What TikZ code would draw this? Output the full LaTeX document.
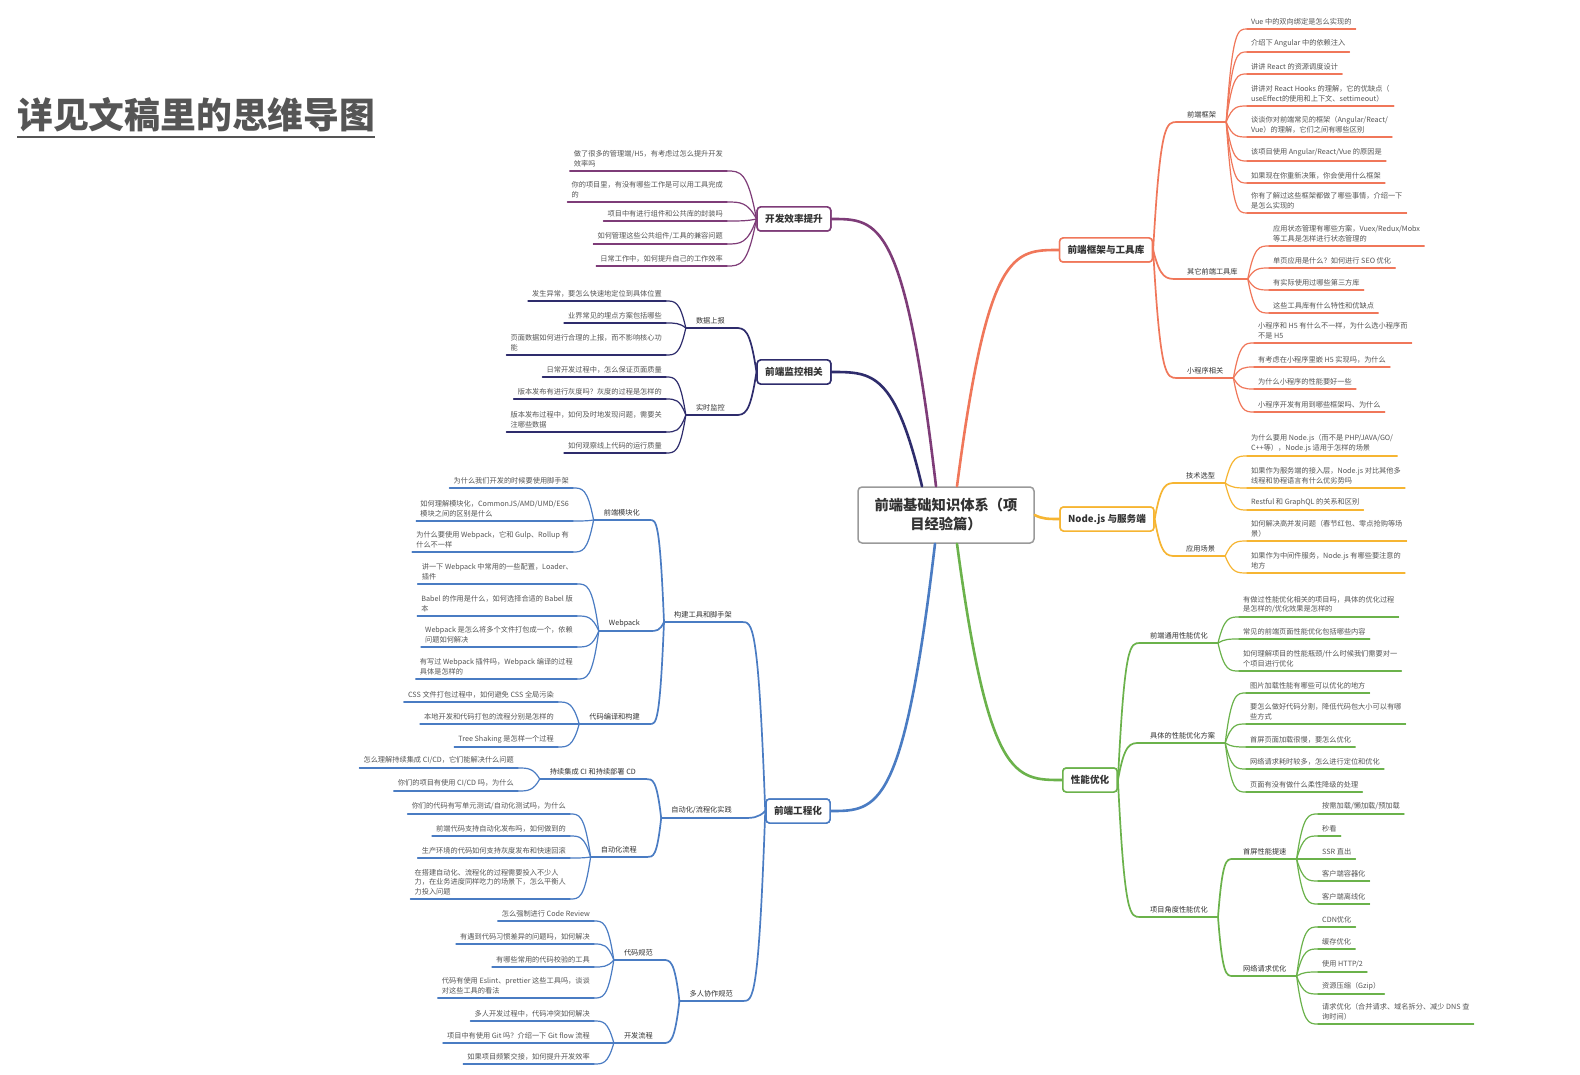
\documentclass[tikz,border=0pt]{standalone}
\usepackage{fontspec}
\setmainfont{Noto Sans CJK SC}
\usetikzlibrary{calc}

\definecolor{cOr}{HTML}{F0775A}
\definecolor{cYe}{HTML}{F6B532}
\definecolor{cGr}{HTML}{6BB24B}
\definecolor{cBl}{HTML}{4A7CC3}
\definecolor{cNv}{HTML}{2E2C6C}
\definecolor{cPu}{HTML}{7E3C78}
\definecolor{txt}{HTML}{555555}
\definecolor{dark}{HTML}{333333}
\definecolor{frame}{HTML}{9A9A9A}
\definecolor{titlegray}{HTML}{555555}

\newcommand\lf{\fontsize{7.2}{9.5}\selectfont}

\tikzset{
  br/.style={to path={let \p1=(\tikztostart), \p2=(\tikztotarget) in
      .. controls ({\x1+0.3*(\x2-\x1)},\y2) and ({\x1+0.55*(\x2-\x1)},\y2) .. (\tikztotarget)}},
  leaf/.style={inner xsep=4pt, inner ysep=4pt, align=left, font=\lf, text=txt},
  topic/.style={inner xsep=10pt, inner ysep=4pt, align=left, font=\lf, text=dark},
  mainbox/.style={draw=#1, line width=1.5pt, rounded corners=3.5pt, fill=white,
      font=\fontsize{9.6}{11}\selectfont\bfseries, text=dark, inner xsep=8pt, minimum height=24pt},
  ln/.style={line width=1.2pt, line cap=round},
  sub/.style={line width=1.7pt},
  trunk/.style={line width=2.6pt, line cap=round},
}

% topic on the right-hand side: style, name, x, underline y, colour, parent anchor, text
\newcommand\topicR[7]{%
  \node[#1, anchor=south west] (#2) at (#3,#4) {#7};
  \draw[ln,#5] (#2.south west) -- (#2.south east);
  \draw[ln,#5] (#6) to[br] (#2.south west);
}
% topic on the left-hand side
\newcommand\topicL[7]{%
  \node[#1, anchor=south east] (#2) at (#3,#4) {#7};
  \draw[ln,#5] (#2.south west) -- (#2.south east);
  \draw[ln,#5] (#6) to[br] (#2.south east);
}

\begin{document}
\begin{tikzpicture}[x=1pt,y=-1pt]
\useasboundingbox (0,0) rectangle (1580,1075);
\fill[white] (0,0) rectangle (1580,1075);

% heading
\node[font=\fontsize{35.8}{40}\selectfont\bfseries, text=titlegray, anchor=base west, inner sep=0pt]
  (title) at (17,129) {详见文稿里的思维导图};
\draw[titlegray, line width=2pt] ([yshift=-8pt]title.base west) -- ([yshift=-8pt]title.base east);

% central topic
\node[draw=frame, line width=1.5pt, rounded corners=4pt, fill=white, minimum width=176pt,
      minimum height=56pt, align=center, text=dark,
      font=\fontsize{14.3}{19}\selectfont\bfseries] (ctr) at (946,515)
  {前端基础知识体系（项\\目经验篇）};

% main topics
\node[mainbox=cOr] (fw) at (1106,250) {前端框架与工具库};
\node[mainbox=cYe] (nd) at (1107,519) {Node.js 与服务端};
\node[mainbox=cGr] (pf) at (1090,780) {性能优化};
\node[mainbox=cPu] (kf) at (794,219) {开发效率提升};
\node[mainbox=cNv] (jk) at (794,372) {前端监控相关};
\node[mainbox=cBl] (gc) at (798,811) {前端工程化};

% trunks from the central topic
\draw[trunk,cOr] (957,0 |- ctr.north) to[br] (fw.west);
\draw[trunk,cYe] (ctr.east) to[br] (nd.west);
\draw[trunk,cGr] (957,0 |- ctr.south) to[br] (pf.west);
\draw[trunk,cPu] (936,0 |- ctr.north) to[br] (kf.east);
\draw[trunk,cNv] (922,0 |- ctr.north) to[br] (jk.east);
\draw[trunk,cBl] (935,0 |- ctr.south) to[br] (gc.east);

% ---------- front-end frameworks ----------
\topicR{topic}{fk}{1177}{122}{cOr,sub}{fw.east}{前端框架}
\topicR{topic}{qt}{1177}{279}{cOr,sub}{fw.east}{其它前端工具库}
\topicR{topic}{xc}{1177}{378}{cOr,sub}{fw.east}{小程序相关}

\topicR{leaf}{fk1}{1247}{29}{cOr}{fk.south east}{Vue 中的双向绑定是怎么实现的}
\topicR{leaf}{fk2}{1247}{52}{cOr}{fk.south east}{介绍下 Angular 中的依赖注入}
\topicR{leaf}{fk3}{1247}{74}{cOr}{fk.south east}{讲讲 React 的资源调度设计}
\topicR{leaf}{fk4}{1247}{106}{cOr}{fk.south east}{讲讲对 React Hooks 的理解，它的优缺点（\\useEffect的使用和上下文、settimeout）}
\topicR{leaf}{fk5}{1247}{137}{cOr}{fk.south east}{谈谈你对前端常见的框架（Angular/React/\\Vue）的理解，它们之间有哪些区别}
\topicR{leaf}{fk6}{1247}{161}{cOr}{fk.south east}{该项目使用 Angular/React/Vue 的原因是}
\topicR{leaf}{fk7}{1247}{183}{cOr}{fk.south east}{如果现在你重新决策，你会使用什么框架}
\topicR{leaf}{fk8}{1247}{213}{cOr}{fk.south east}{你有了解过这些框架都做了哪些事情，介绍一下\\是怎么实现的}

\topicR{leaf}{qt1}{1269}{246}{cOr}{qt.south east}{应用状态管理有哪些方案，Vuex/Redux/Mobx\\等工具是怎样进行状态管理的}
\topicR{leaf}{qt2}{1269}{268}{cOr}{qt.south east}{单页应用是什么？如何进行 SEO 优化}
\topicR{leaf}{qt3}{1269}{290}{cOr}{qt.south east}{有实际使用过哪些第三方库}
\topicR{leaf}{qt4}{1269}{313}{cOr}{qt.south east}{这些工具库有什么特性和优缺点}

\topicR{leaf}{xc1}{1254}{343}{cOr}{xc.south east}{小程序和 H5 有什么不一样，为什么选小程序而\\不是 H5}
\topicR{leaf}{xc2}{1254}{367}{cOr}{xc.south east}{有考虑在小程序里嵌 H5 实现吗，为什么}
\topicR{leaf}{xc3}{1254}{389}{cOr}{xc.south east}{为什么小程序的性能要好一些}
\topicR{leaf}{xc4}{1254}{412}{cOr}{xc.south east}{小程序开发有用到哪些框架吗、为什么}

% ---------- Node.js ----------
\topicR{topic}{js}{1176}{483}{cYe,sub}{nd.east}{技术选型}
\topicR{topic}{yy}{1176}{556}{cYe,sub}{nd.east}{应用场景}

\topicR{leaf}{js1}{1247}{456}{cYe}{js.south east}{为什么要用 Node.js（而不是 PHP/JAVA/GO/\\C++等），Node.js 适用于怎样的场景}
\topicR{leaf}{js2}{1247}{488}{cYe}{js.south east}{如果作为服务端的接入层，Node.js 对比其他多\\线程和协程语言有什么优劣势吗}
\topicR{leaf}{js3}{1247}{510}{cYe}{js.south east}{Restful 和 GraphQL 的关系和区别}
\topicR{leaf}{yy1}{1247}{541}{cYe}{yy.south east}{如何解决高并发问题（春节红包、零点抢购等场\\景）}
\topicR{leaf}{yy2}{1247}{573}{cYe}{yy.south east}{如果作为中间件服务，Node.js 有哪些要注意的\\地方}

% ---------- performance ----------
\topicR{topic}{ty}{1140}{643}{cGr,sub}{pf.east}{前端通用性能优化}
\topicR{topic}{jt}{1140}{743}{cGr,sub}{pf.east}{具体的性能优化方案}
\topicR{topic}{xm}{1140}{917}{cGr,sub}{pf.east}{项目角度性能优化}

\topicR{leaf}{ty1}{1239}{617}{cGr}{ty.south east}{有做过性能优化相关的项目吗，具体的优化过程\\是怎样的/优化效果是怎样的}
\topicR{leaf}{ty2}{1239}{639}{cGr}{ty.south east}{常见的前端页面性能优化包括哪些内容}
\topicR{leaf}{ty3}{1239}{671}{cGr}{ty.south east}{如何理解项目的性能瓶颈/什么时候我们需要对一\\个项目进行优化}

\topicR{leaf}{jt1}{1246}{693}{cGr}{jt.south east}{图片加载性能有哪些可以优化的地方}
\topicR{leaf}{jt2}{1246}{724}{cGr}{jt.south east}{要怎么做好代码分割，降低代码包大小可以有哪\\些方式}
\topicR{leaf}{jt3}{1246}{747}{cGr}{jt.south east}{首屏页面加载很慢，要怎么优化}
\topicR{leaf}{jt4}{1246}{769}{cGr}{jt.south east}{网络请求耗时较多，怎么进行定位和优化}
\topicR{leaf}{jt5}{1246}{792}{cGr}{jt.south east}{页面有没有做什么柔性降级的处理}

\topicR{topic}{sp}{1233}{859}{cGr,sub}{xm.south east}{首屏性能提速}
\topicR{topic}{wl}{1233}{976}{cGr,sub}{xm.south east}{网络请求优化}

\topicR{leaf}{sp1}{1318}{814}{cGr}{sp.south east}{按需加载/懒加载/预加载}
\topicR{leaf}{sp2}{1318}{836}{cGr}{sp.south east}{秒看}
\topicR{leaf}{sp3}{1318}{859}{cGr}{sp.south east}{SSR 直出}
\topicR{leaf}{sp4}{1318}{881}{cGr}{sp.south east}{客户端容器化}
\topicR{leaf}{sp5}{1318}{904}{cGr}{sp.south east}{客户端离线化}

\topicR{leaf}{wl1}{1318}{927}{cGr}{wl.south east}{CDN优化}
\topicR{leaf}{wl2}{1318}{949}{cGr}{wl.south east}{缓存优化}
\topicR{leaf}{wl3}{1318}{972}{cGr}{wl.south east}{使用 HTTP/2}
\topicR{leaf}{wl4}{1318}{994}{cGr}{wl.south east}{资源压缩（Gzip）}
\topicR{leaf}{wl5}{1318}{1024}{cGr}{wl.south east}{请求优化（合并请求、域名拆分、减少 DNS 查\\询时间）}

% ---------- development efficiency ----------
\topicL{leaf}{kf1}{727}{171}{cPu}{kf.west}{做了很多的管理端/H5，有考虑过怎么提升开发\\效率吗}
\topicL{leaf}{kf2}{727}{202}{cPu}{kf.west}{你的项目里，有没有哪些工作是可以用工具完成\\的}
\topicL{leaf}{kf3}{727}{221}{cPu}{kf.west}{项目中有进行组件和公共库的封装吗}
\topicL{leaf}{kf4}{727}{244}{cPu}{kf.west}{如何管理这些公共组件/工具的兼容问题}
\topicL{leaf}{kf5}{727}{266}{cPu}{kf.west}{日常工作中，如何提升自己的工作效率}

% ---------- monitoring ----------
\topicL{topic}{sb}{735}{328}{cNv,sub}{jk.west}{数据上报}
\topicL{topic}{ss}{735}{415}{cNv,sub}{jk.west}{实时监控}

\topicL{leaf}{sb1}{666}{301}{cNv}{sb.south west}{发生异常，要怎么快速地定位到具体位置}
\topicL{leaf}{sb2}{666}{323}{cNv}{sb.south west}{业界常见的埋点方案包括哪些}
\topicL{leaf}{sb3}{666}{355}{cNv}{sb.south west}{页面数据如何进行合理的上报，而不影响核心功\\能}
\topicL{leaf}{ss1}{666}{377}{cNv}{ss.south west}{日常开发过程中，怎么保证页面质量}
\topicL{leaf}{ss2}{666}{399}{cNv}{ss.south west}{版本发布有进行灰度吗？灰度的过程是怎样的}
\topicL{leaf}{ss3}{666}{432}{cNv}{ss.south west}{版本发布过程中，如何及时地发现问题，需要关\\注哪些数据}
\topicL{leaf}{ss4}{666}{453}{cNv}{ss.south west}{如何观察线上代码的运行质量}

% ---------- engineering ----------
\topicL{topic}{gj}{742}{622}{cBl,sub}{gc.west}{构建工具和脚手架}
\topicL{topic}{zd}{742}{818}{cBl,sub}{gc.west}{自动化/流程化实践}
\topicL{topic}{dr}{743}{1001}{cBl,sub}{gc.west}{多人协作规范}

\topicL{topic}{mk}{650}{520}{cBl,sub}{gj.south west}{前端模块化}
\topicL{topic}{wp}{650}{631}{cBl,sub}{gj.south west}{Webpack}
\topicL{topic}{by}{650}{724}{cBl,sub}{gj.south west}{代码编译和构建}

\topicL{leaf}{mk1}{573}{488}{cBl}{mk.south west}{为什么我们开发的时候要使用脚手架}
\topicL{leaf}{mk2}{573}{521}{cBl}{mk.south west}{如何理解模块化，CommonJS/AMD/UMD/ES6\\模块之间的区别是什么}
\topicL{leaf}{mk3}{573}{552}{cBl}{mk.south west}{为什么要使用 Webpack，它和 Gulp、Rollup 有\\什么不一样}

\topicL{leaf}{wp1}{577}{584}{cBl}{wp.south west}{讲一下 Webpack 中常用的一些配置，Loader、\\插件}
\topicL{leaf}{wp2}{577}{616}{cBl}{wp.south west}{Babel 的作用是什么，如何选择合适的 Babel 版\\本}
\topicL{leaf}{wp3}{577}{647}{cBl}{wp.south west}{Webpack 是怎么将多个文件打包成一个，依赖\\问题如何解决}
\topicL{leaf}{wp4}{577}{679}{cBl}{wp.south west}{有写过 Webpack 插件吗，Webpack 编译的过程\\具体是怎样的}

\topicL{leaf}{by1}{558}{702}{cBl}{by.south west}{CSS 文件打包过程中，如何避免 CSS 全局污染}
\topicL{leaf}{by2}{558}{724}{cBl}{by.south west}{本地开发和代码打包的流程分别是怎样的}
\topicL{leaf}{by3}{558}{747}{cBl}{by.south west}{Tree Shaking 是怎样一个过程}

\topicL{topic}{ci}{646}{779}{cBl,sub}{zd.south west}{持续集成 CI 和持续部署 CD}
\topicL{topic}{lc}{647}{857}{cBl,sub}{zd.south west}{自动化流程}

\topicL{leaf}{ci1}{518}{768}{cBl}{ci.south west}{怎么理解持续集成 CI/CD，它们能解决什么问题}
\topicL{leaf}{ci2}{518}{791}{cBl}{ci.south west}{你们的项目有使用 CI/CD 吗，为什么}

\topicL{leaf}{lc1}{570}{814}{cBl}{lc.south west}{你们的代码有写单元测试/自动化测试吗，为什么}
\topicL{leaf}{lc2}{570}{836}{cBl}{lc.south west}{前端代码支持自动化发布吗，如何做到的}
\topicL{leaf}{lc3}{570}{858}{cBl}{lc.south west}{生产环境的代码如何支持灰度发布和快速回滚}
\topicL{leaf}{lc4}{570}{899}{cBl}{lc.south west}{在搭建自动化、流程化的过程需要投入不少人\\力，在业务进度同样吃力的场景下，怎么平衡人\\力投入问题}

\topicL{topic}{gf}{663}{960}{cBl,sub}{dr.south west}{代码规范}
\topicL{topic}{kl}{663}{1043}{cBl,sub}{dr.south west}{开发流程}

\topicL{leaf}{gf1}{594}{921}{cBl}{gf.south west}{怎么强制进行 Code Review}
\topicL{leaf}{gf2}{594}{944}{cBl}{gf.south west}{有遇到代码习惯差异的问题吗，如何解决}
\topicL{leaf}{gf3}{594}{967}{cBl}{gf.south west}{有哪些常用的代码校验的工具}
\topicL{leaf}{gf4}{594}{998}{cBl}{gf.south west}{代码有使用 Eslint、prettier 这些工具吗，谈谈\\对这些工具的看法}

\topicL{leaf}{kl1}{594}{1021}{cBl}{kl.south west}{多人开发过程中，代码冲突如何解决}
\topicL{leaf}{kl2}{594}{1043}{cBl}{kl.south west}{项目中有使用 Git 吗？介绍一下 Git flow 流程}
\topicL{leaf}{kl3}{594}{1064}{cBl}{kl.south west}{如果项目频繁交接，如何提升开发效率}

% boxes redrawn on top of the trunk ends
\node[mainbox=cOr] at (fw) {前端框架与工具库};
\node[mainbox=cYe] at (nd) {Node.js 与服务端};
\node[mainbox=cGr] at (pf) {性能优化};
\node[mainbox=cPu] at (kf) {开发效率提升};
\node[mainbox=cNv] at (jk) {前端监控相关};
\node[mainbox=cBl] at (gc) {前端工程化};
\end{tikzpicture}
\end{document}
